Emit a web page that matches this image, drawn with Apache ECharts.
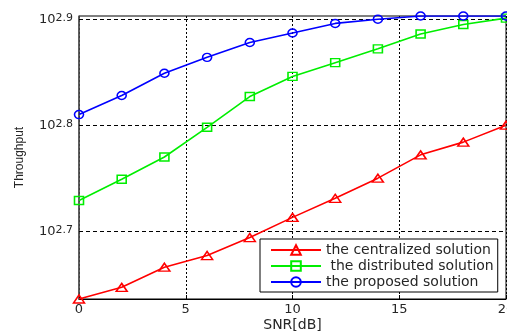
<!DOCTYPE html>
<html>
<head>
<meta charset="utf-8">
<script src="https://cdn.jsdelivr.net/npm/echarts@6/dist/echarts.min.js"></script>
<style>html,body{margin:0;padding:0;background:#fff;}#c{width:507px;height:333px;}</style>
</head>
<body>
<div id="c"></div>
<script>
// SNR values (dB)
var snr = [0, 2, 4, 6, 8, 10, 12, 14, 16, 18, 20];
// log10(Throughput)
var centralizedLog = [2.636, 2.647, 2.666, 2.677, 2.694, 2.713, 2.731, 2.750, 2.772, 2.784, 2.800];
var distributedLog = [2.729, 2.749, 2.770, 2.798, 2.827, 2.846, 2.859, 2.872, 2.886, 2.895, 2.901];
var proposedLog    = [2.810, 2.828, 2.849, 2.864, 2.878, 2.887, 2.896, 2.900, 2.903, 2.903, 2.903];
// y tick exponents (labels 10^x)
var yTickExp = [2.7, 2.8, 2.9];
var xTicks = [0, 5, 10, 15, 20];
var seriesNames = ['the centralized solution', ' the distributed solution', 'the proposed solution'];

function pairs(ys) { return snr.map(function (x, i) { return [x, ys[i]]; }); }

var txt = '#262626';
var chart = echarts.init(document.getElementById('c'), null, {renderer: 'canvas'});
function mk(name, data, color, symbol, size) {
  return {
    name: name, type: 'line', data: pairs(data),
    symbol: symbol, symbolSize: size, showSymbol: true,
    lineStyle: {color: color, width: 1.6},
    itemStyle: {color: 'rgba(255,255,255,0)', borderColor: color, borderWidth: 1.5},
    emphasis: {disabled: true}, animation: false, z: 3
  };
}
chart.setOption({
  animation: false,
  grid: {left: 79, right: 1, top: 16, bottom: 34, containLabel: false, outerBoundsMode: 'none',
         show: true, borderColor: '#000', borderWidth: 1, backgroundColor: 'transparent'},
  xAxis: {
    type: 'value', min: 0, max: 20, interval: 5,
    name: 'SNR[dB]', nameLocation: 'middle', nameGap: 19, nameMoveOverlap: false,
    nameTextStyle: {fontFamily: 'DejaVu Sans', fontSize: 14, color: txt},
    axisLine: {lineStyle: {color: '#000', width: 1}},
    axisTick: {inside: true, length: 4, lineStyle: {color: '#000'}},
    axisLabel: {fontFamily: 'DejaVu Sans', fontSize: 13, color: txt, margin: 4, showMaxLabel: true, hideOverlap: false},
    splitLine: {show: true, lineStyle: {color: '#000', type: [2, 2], width: 1}}
  },
  yAxis: {
    type: 'value', min: 2.636, max: 2.903,
    name: 'Throughput', nameLocation: 'middle', nameGap: 53, nameMoveOverlap: false,
    nameTextStyle: {fontFamily: 'Liberation Sans', fontSize: 12, color: txt},
    axisLine: {show: true, lineStyle: {color: '#555', width: 1.5}},
    axisTick: {show: true, inside: true, length: 4, customValues: yTickExp, lineStyle: {color: '#000'}},
    axisLabel: {
      customValues: yTickExp, margin: 6,
      formatter: function (v) { return '{b|10}{s|' + Number(v).toFixed(1) + '}'; },
      rich: {
        b: {fontFamily: 'DejaVu Sans', fontSize: 13, lineHeight: 13, color: txt},
        s: {fontFamily: 'DejaVu Sans', fontSize: 11, lineHeight: 10, verticalAlign: 'top', color: txt}
      }
    },
    splitLine: {show: true, lineStyle: {color: '#000', type: [4, 3], width: 1}}
  },
  legend: {
    orient: 'vertical', left: 260, top: 239,
    backgroundColor: '#fff', borderColor: '#000', borderWidth: 1,
    padding: [4, 4, 3, 10], itemWidth: 50, itemHeight: 12, itemGap: 2,
    textStyle: {fontFamily: 'DejaVu Sans', fontSize: 14, color: txt},
    data: seriesNames
  },
  series: [
    mk(seriesNames[0], centralizedLog, '#ff0000', 'triangle', [11, 8]),
    mk(seriesNames[1], distributedLog, '#00ee00', 'rect', [9, 8]),
    mk(seriesNames[2], proposedLog, '#0000ff', 'circle', [9, 8])
  ]
});
</script>
</body>
</html>
